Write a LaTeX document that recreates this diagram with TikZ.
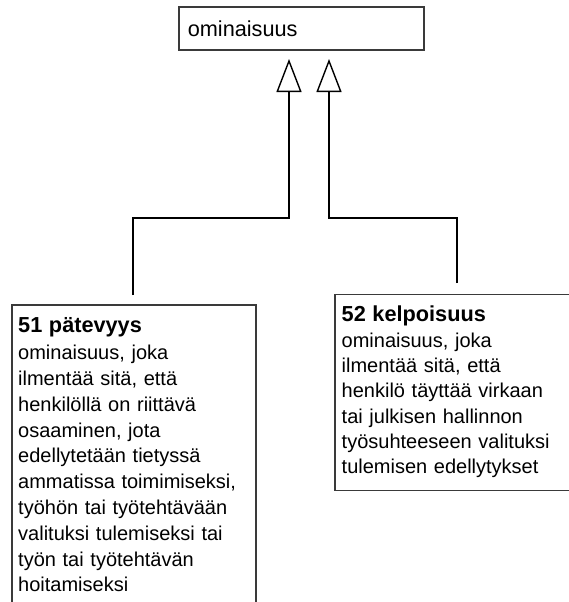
\documentclass[tikz,border=0pt]{standalone}
\usepackage{fontspec}
\setmainfont{Liberation Sans}
\usetikzlibrary{arrows.meta}
\definecolor{boxgray}{HTML}{3A3A3A}
\newcommand{\headfont}{\fontsize{21.7}{25.8}\selectfont\bfseries}
\tikzset{
  boxshape/.style={draw=boxgray, line width=1.6pt, inner sep=0pt, anchor=north west},
  bodytext/.style 2 args={anchor=north west, inner sep=0pt, align=left, text width=#1,
    font=\fontsize{20}{#2}\selectfont},
  conn/.style={line width=1.8pt, black, -{Triangle[open, length=33pt, width=25pt, line width=1.4pt]}}
}
\begin{document}
\begin{tikzpicture}[x=1pt, y=-1pt]
\useasboundingbox (0,0) rectangle (568,602);
% top box
\node[boxshape, minimum width=245pt, minimum height=43pt, text width=227pt, inner xsep=9pt, align=left,
      font=\fontsize{21.7}{24}\selectfont] (sup) at (178,6) {ominaisuus};
% left box
\node[boxshape, minimum width=244pt, minimum height=330pt] (b51) at (11,304) {};
\node[bodytext={236pt}{25.8}] (t51) at (18,317.4) {{\headfont 51 pätevyys}\\[1.2pt]
ominaisuus, joka\\
ilmentää sitä, että\\
henkilöllä on riittävä\\
osaaminen, jota\\
edellytetään tietyssä\\
ammatissa toimimiseksi,\\
työhön tai työtehtävään\\
valituksi tulemiseksi tai\\
työn tai työtehtävän\\
hoitamiseksi};
% right box
\node[boxshape, minimum width=260pt, minimum height=196pt] (b52) at (334,293.5) {};
\node[bodytext={230pt}{25.3}] (t52) at (341.5,305.4) {{\headfont 52 kelpoisuus}\\[0.7pt]
ominaisuus, joka\\
ilmentää sitä, että\\
henkilö täyttää virkaan\\
tai julkisen hallinnon\\
työsuhteeseen valituksi\\
tulemisen edellytykset};
% connectors
\coordinate (a1) at (289,59);
\coordinate (a2) at (329,59);
\coordinate (j1) at (289,218);
\coordinate (j2) at (329,218);
\coordinate (s1) at (133,295);
\coordinate (s2) at (457,283);
\draw[conn] (s1) |- (j1) -- (a1);
\draw[conn] (s2) |- (j2) -- (a2);
\end{tikzpicture}
\end{document}
